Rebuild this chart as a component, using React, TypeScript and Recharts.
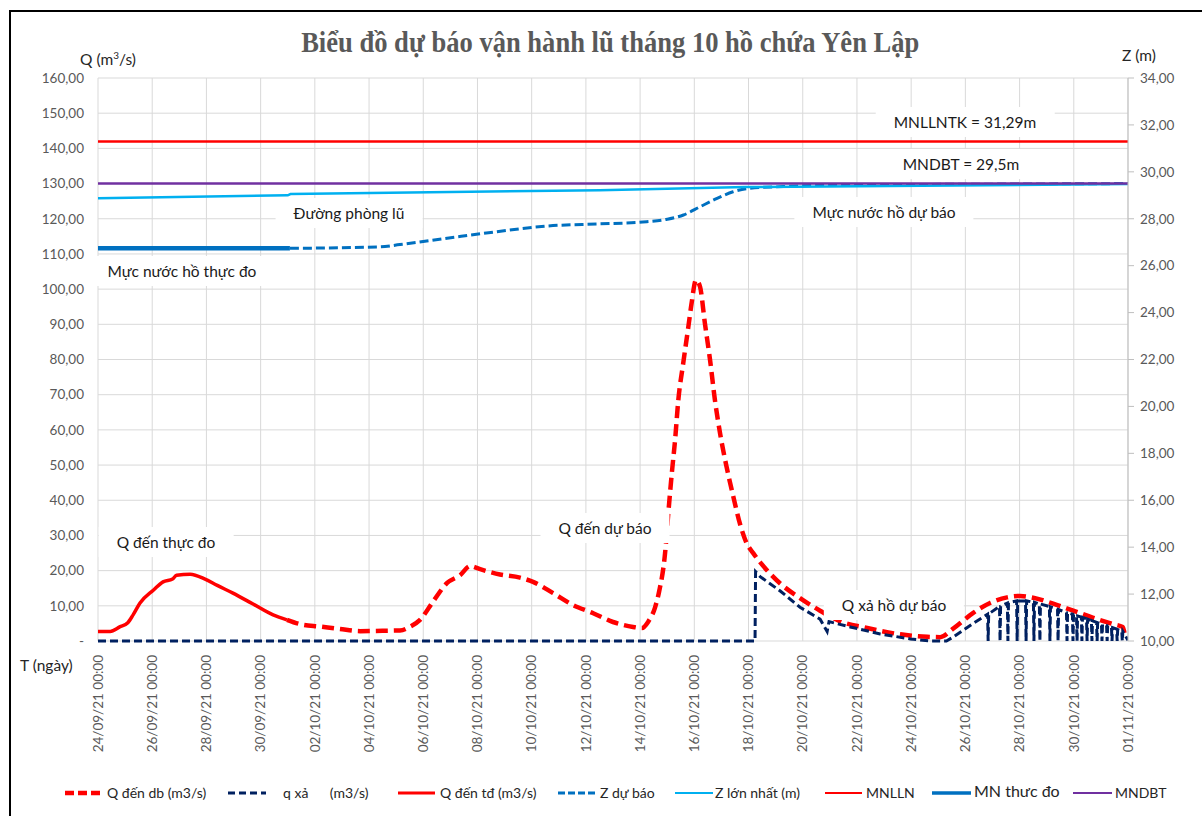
import React from "react";
import { ComposedChart, Line, XAxis, YAxis, CartesianGrid } from "recharts";

// Biểu đồ dự báo vận hành lũ – hồ chứa Yên Lập (tháng 10/2021)
// x = số ngày kể từ 24/09/21 00:00

const xTicks = [0, 2, 4, 6, 8, 10, 12, 14, 16, 18, 20, 22, 24, 26, 28, 30, 32, 34, 36, 38];
const xTickLabels = [
  "24/09/21 00:00", "26/09/21 00:00", "28/09/21 00:00", "30/09/21 00:00",
  "02/10/21 00:00", "04/10/21 00:00", "06/10/21 00:00", "08/10/21 00:00",
  "10/10/21 00:00", "12/10/21 00:00", "14/10/21 00:00", "16/10/21 00:00",
  "18/10/21 00:00", "20/10/21 00:00", "22/10/21 00:00", "24/10/21 00:00",
  "26/10/21 00:00", "28/10/21 00:00", "30/10/21 00:00", "01/11/21 00:00",
];
const qTicks = [0, 10, 20, 30, 40, 50, 60, 70, 80, 90, 100, 110, 120, 130, 140, 150, 160];
const zTicks = [10, 12, 14, 16, 18, 20, 22, 24, 26, 28, 30, 32, 34];

// Q đến thực đo (m3/s)
const qDenTd: [number, number][] = [
  [0, 2.7], [0.45, 2.7], [0.8, 4.0], [1.1, 5.2], [1.3, 7.5], [1.55, 10.8], [2.05, 14.5],
  [2.4, 16.8], [2.75, 17.6], [2.9, 18.7], [3.4, 19.0], [3.95, 17.6], [4.4, 15.8],
  [4.98, 13.6], [5.72, 10.5], [6.46, 7.4], [6.97, 6.0],
];

// Q đến dự báo (m3/s)
const qDenDb: [number, number][] = [
  [6.97, 6.0], [7.45, 4.8], [8.2, 4.1], [8.93, 3.4], [9.67, 2.8], [10.5, 2.9], [11.14, 3.0],
  [11.5, 4.0], [11.88, 6.0], [12.36, 11.2], [12.88, 16.5], [13.36, 18.7], [13.73, 21.3],
  [14.1, 20.4], [14.83, 18.9], [15.57, 18.0], [16.05, 16.8], [16.79, 13.6], [17.53, 10.2],
  [18.27, 7.9], [19.0, 5.4], [19.74, 4.0], [20.07, 3.7], [20.3, 5.5], [20.55, 9.5],
  [20.7, 14.0], [20.92, 24.9], [21.04, 36.3], [21.17, 47.7], [21.29, 57.1], [21.41, 68.5],
  [21.59, 78.9], [21.78, 89.3], [21.9, 96.0], [22.06, 102.6], [22.21, 100.7], [22.39, 90.3],
  [22.58, 79.9], [22.76, 68.5], [22.95, 59.0], [23.19, 49.5], [23.44, 41.0], [23.68, 33.4],
  [23.93, 27.8], [24.18, 24.9], [24.67, 20.2], [25.16, 16.4], [25.9, 12.2], [26.64, 8.6],
  [27.38, 5.6], [28.38, 3.7], [29.6, 1.9], [30.59, 1.2], [31.07, 1.1], [31.55, 3.5],
  [32.29, 8.0], [32.91, 10.8], [33.54, 12.4], [34.02, 12.8], [34.5, 12.3], [35.24, 10.6],
  [35.98, 8.6], [36.72, 6.6], [37.45, 4.8], [37.8, 4.0], [37.9, 1.0],
];

// q xả (m3/s)
const qXa: [number, number][] = [
  [0, 0], [24.24, 0], [24.26, 19.7], [24.43, 18.3], [25.17, 14.2], [25.9, 9.6], [26.64, 6.2],
  [26.9, 2.7], [26.97, 5.5], [27.75, 4.0], [28.86, 2.0], [29.97, 0.6], [30.7, 0], [31.3, 0],
  [31.55, 1.1], [32.29, 5.0], [32.82, 7.6], [32.84, 0], [32.86, 7.7],
  [33.26, 9.8], [33.28, 0], [33.3, 9.9], [33.55, 10.8], [33.57, 0], [33.59, 10.9],
  [33.89, 11.4], [33.91, 0], [33.93, 11.4], [34.22, 11.4], [34.24, 0], [34.26, 11.4],
  [34.51, 11.0], [34.53, 0], [34.55, 11.0], [34.73, 10.5], [34.75, 0], [34.77, 10.5],
  [35.1, 9.8], [35.12, 0], [35.14, 9.7], [35.4, 9.0], [35.42, 0], [35.44, 8.9],
  [35.73, 8.1], [35.75, 0], [35.77, 8.0], [35.95, 7.6], [35.97, 0], [35.99, 7.5],
  [36.1, 7.2], [36.12, 0], [36.14, 7.1], [36.28, 6.8], [36.3, 0], [36.32, 6.7],
  [36.47, 6.3], [36.49, 0], [36.51, 6.2], [36.65, 5.8], [36.67, 0], [36.69, 5.7],
  [36.84, 5.3], [36.86, 0], [36.88, 5.2], [37.02, 4.9], [37.04, 0], [37.06, 4.8],
  [37.21, 4.4], [37.23, 0], [37.25, 4.3], [37.39, 3.9], [37.41, 0], [37.43, 3.8],
  [37.58, 3.4], [37.6, 0], [37.62, 3.3], [37.77, 2.8], [37.79, 0], [37.81, 2.7], [38, 0.2],
];

// Mực nước (m)
const zDuBao: [number, number][] = [
  [7.08, 26.74], [10.4, 26.8], [11.14, 26.9], [12.88, 27.17], [14.72, 27.45], [16.57, 27.69],
  [18.5, 27.78], [20.1, 27.86], [21.0, 27.98], [21.6, 28.16], [22.21, 28.51], [22.84, 28.87],
  [23.43, 29.15], [24.06, 29.3], [25.28, 29.37], [27.12, 29.44], [32, 29.47], [38, 29.5],
];
const zLonNhat: [number, number][] = [
  [0, 28.87], [7.0, 29.0], [7.1, 29.05], [18.5, 29.22], [23.9, 29.35], [38, 29.48],
];
const mnThucDo: [number, number][] = [[0, 26.74], [7.08, 26.74]];
const mnlln: [number, number][] = [[0, 31.29], [38, 31.29]];
const mndbt: [number, number][] = [[0, 29.5], [38, 29.5]];

const pts = (arr: [number, number][]) => arr.map(([d, v]) => ({ d, v }));

const FONT = "Lato, 'Noto Sans', sans-serif";
const GRAY = "#595959";

function DateTick(props: any) {
  const { x, y, payload } = props;
  const label = xTickLabels[xTicks.indexOf(payload.value)];
  return (
    <text
      x={x}
      y={y}
      dy="0.35em"
      transform={`rotate(-90, ${x}, ${y})`}
      textAnchor="end"
      fontSize={13.5}
      fontFamily={FONT}
      fill={GRAY}
    >
      {label}
    </text>
  );
}

const fmtQ = (v: number) => (v === 0 ? "-" : v.toFixed(2).replace(".", ","));
const fmtZ = (v: number) => v.toFixed(2).replace(".", ",");

const notes = [
  { text: "MNLLNTK = 31,29m", x: 965, y: 122 },
  { text: "MNDBT = 29,5m", x: 961, y: 164 },
  { text: "Đường phòng lũ", x: 349, y: 213 },
  { text: "Mực nước hồ dự báo", x: 884, y: 212 },
  { text: "Mực nước hồ thực đo", x: 182, y: 271 },
  { text: "Q đến thực đo", x: 166, y: 542 },
  { text: "Q đến dự báo", x: 605, y: 528 },
  { text: "Q xả hồ dự báo", x: 894, y: 605 },
];

const legendItems = [
  { label: "Q đến db (m3/s)", color: "#ff0000", w: 4.5, dash: "9 4", x1: 65, x2: 104, tx: 107 },
  { label: "q xả      (m3/s)", color: "#002060", w: 3, dash: "7 4", x1: 228, x2: 266, tx: 283 },
  { label: "Q đến tđ (m3/s)", color: "#ff0000", w: 3, dash: undefined, x1: 398, x2: 435, tx: 440 },
  { label: "Z dự báo", color: "#0070c0", w: 3, dash: "7 3", x1: 558, x2: 597, tx: 600 },
  { label: "Z lớn nhất (m)", color: "#00b0f0", w: 2, dash: undefined, x1: 675, x2: 713, tx: 715 },
  { label: "MNLLN", color: "#ff0000", w: 2, dash: undefined, x1: 825, x2: 862, tx: 866 },
  { label: "MN thưc đo", color: "#0070c0", w: 3.5, dash: undefined, x1: 932, x2: 971, tx: 974, big: true },
  { label: "MNDBT", color: "#7030a0", w: 2, dash: undefined, x1: 1073, x2: 1112, tx: 1115 },
];

export default function App() {
  return (
    <div
      style={{
        position: "absolute",
        left: 0,
        top: 0,
        width: 1202,
        height: 816,
        background: "#fff",
        overflow: "hidden",
        fontFamily: FONT,
      }}
    >
      {/* khung */}
      <div
        style={{
          position: "absolute",
          left: 9,
          top: 10,
          width: 1220,
          height: 830,
          borderLeft: "2px solid #000",
          borderTop: "2px solid #000",
        }}
      />
      <div style={{ position: "absolute", left: 0, width: 1220, top: 25, textAlign: "center" }}>
        <span
          style={{
            display: "inline-block",
            transform: "scaleX(0.885)",
            fontFamily: "'Liberation Serif', 'Times New Roman', serif",
            fontWeight: "bold",
            fontSize: 30,
            color: GRAY,
            whiteSpace: "nowrap",
          }}
        >
          Biểu đồ dự báo vận hành lũ tháng 10 hồ chứa Yên Lập
        </span>
      </div>

      <ComposedChart width={1202} height={816} margin={{ top: 78, right: 14, bottom: 55, left: 0 }}>
        <CartesianGrid
          xAxisId="t"
          yAxisId="q"
          stroke="#d9d9d9"
          horizontalValues={qTicks}
          verticalValues={xTicks}
        />
        <XAxis
          xAxisId="t"
          type="number"
          dataKey="d"
          domain={[0, 38]}
          ticks={xTicks}
          height={120}
          tick={<DateTick />}
          tickLine={false}
          tickSize={6}
          tickMargin={8}
          axisLine={false}
          allowDataOverflow
        />
        <YAxis
          yAxisId="q"
          orientation="left"
          width={98}
          domain={[0, 160]}
          ticks={qTicks}
          tickFormatter={fmtQ}
          axisLine={false}
          tickLine={false}
          tickSize={6}
          tickMargin={8}
          tick={{ fontSize: 13.5, fill: GRAY, fontFamily: FONT }}
        />
        <YAxis
          yAxisId="z"
          orientation="right"
          width={60}
          domain={[10, 34]}
          ticks={zTicks}
          tickFormatter={fmtZ}
          axisLine={{ stroke: "#bfbfbf" }}
          tickLine={{ stroke: "#bfbfbf" }}
          tickSize={6}
          tickMargin={6}
          tick={{ fontSize: 13.5, fill: GRAY, fontFamily: FONT, textAnchor: "start" }}
        />

        <Line xAxisId="t" yAxisId="q" data={pts(qDenDb)} dataKey="v" type="monotone" stroke="#ff0000"
          strokeWidth={4.5} strokeDasharray="12 6" dot={false} isAnimationActive={false} />
        <Line xAxisId="t" yAxisId="q" data={pts(qXa)} dataKey="v" type="linear" stroke="#002060"
          strokeWidth={3} strokeDasharray="8 4" dot={false} isAnimationActive={false} />
        <Line xAxisId="t" yAxisId="q" data={pts(qDenTd)} dataKey="v" type="monotone" stroke="#ff0000"
          strokeWidth={3.5} dot={false} isAnimationActive={false} />
        <Line xAxisId="t" yAxisId="z" data={pts(zDuBao)} dataKey="v" type="monotone" stroke="#0070c0"
          strokeWidth={3} strokeDasharray="9 4" dot={false} isAnimationActive={false} />
        <Line xAxisId="t" yAxisId="z" data={pts(zLonNhat)} dataKey="v" type="linear" stroke="#00b0f0"
          strokeWidth={2.5} dot={false} isAnimationActive={false} />
        <Line xAxisId="t" yAxisId="z" data={pts(mnlln)} dataKey="v" type="linear" stroke="#ff0000"
          strokeWidth={2.5} dot={false} isAnimationActive={false} />
        <Line xAxisId="t" yAxisId="z" data={pts(mnThucDo)} dataKey="v" type="linear" stroke="#0070c0"
          strokeWidth={4.5} dot={false} isAnimationActive={false} />
        <Line xAxisId="t" yAxisId="z" data={pts(mndbt)} dataKey="v" type="linear" stroke="#7030a0"
          strokeWidth={2.5} dot={false} isAnimationActive={false} />
      </ComposedChart>

      {/* tên trục */}
      <div style={{ position: "absolute", left: 80, top: 49, fontSize: 15.5, color: "#262626" }}>
        Q (m<sup style={{ fontSize: 10 }}>3</sup>/s)
      </div>
      <div style={{ position: "absolute", left: 1122, top: 46, fontSize: 15.5, color: "#262626" }}>Z (m)</div>
      <div style={{ position: "absolute", left: 20, top: 656, fontSize: 15.5, color: "#262626" }}>T (ngày)</div>

      {/* chú thích trong biểu đồ */}
      {notes.map((n) => (
        <div
          key={n.text}
          style={{
            position: "absolute",
            left: n.x,
            top: n.y,
            transform: "translate(-50%, -50%)",
            background: "#fff",
            padding: "6px 18px",
            fontSize: 15.5,
            color: "#1a1a1a",
            whiteSpace: "nowrap",
          }}
        >
          {n.text}
        </div>
      ))}

      {/* chú giải */}
      <svg style={{ position: "absolute", left: 0, top: 775 }} width={1202} height={40}>
        {legendItems.map((it) => (
          <g key={it.label}>
            <line x1={it.x1} x2={it.x2} y1={18} y2={18} stroke={it.color} strokeWidth={it.w}
              strokeDasharray={it.dash} />
            <text x={it.tx} y={it.big ? 16 : 18} dy="0.35em" fontSize={it.big ? 16 : 14}
              fontFamily={FONT} fill="#262626" style={{ whiteSpace: "pre" }}>
              {it.label}
            </text>
          </g>
        ))}
      </svg>
    </div>
  );
}
